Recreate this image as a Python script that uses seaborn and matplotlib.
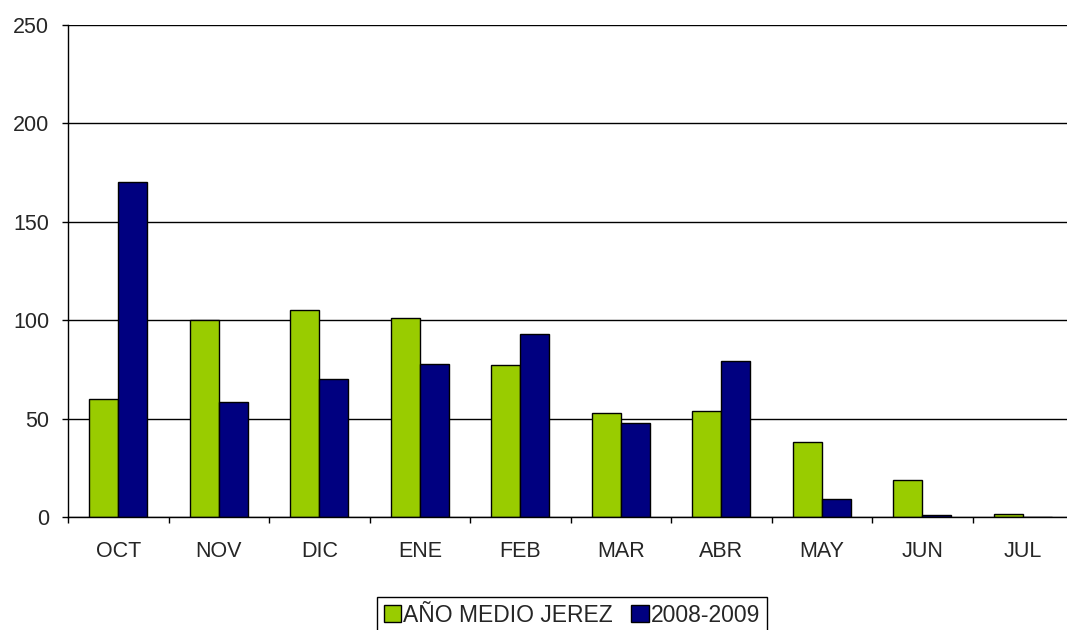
import pandas as pd
import matplotlib.pyplot as plt
import seaborn as sns
from matplotlib.ticker import FixedLocator

meses = ['OCT', 'NOV', 'DIC', 'ENE', 'FEB', 'MAR', 'ABR', 'MAY', 'JUN', 'JUL']
medio_jerez = [60, 100, 105, 101, 77, 53, 54, 38, 19, 1.5]
temporada = [170, 58.5, 70, 77.5, 93, 48, 79.5, 9, 0.8, 0]
series = ['AÑO MEDIO JEREZ', '2008-2009']

df = pd.DataFrame({
    'mes': meses * 2,
    'valor': medio_jerez + temporada,
    'serie': [series[0]] * len(meses) + [series[1]] * len(meses),
})

sns.set_style('white')
plt.rcParams['font.family'] = ['Liberation Sans', 'DejaVu Sans']

fig = plt.figure(figsize=(10.67, 6.3), dpi=100)
ax = fig.add_axes([68 / 1067, 1 - 517 / 630, 1005 / 1067, 492 / 630])

sns.barplot(data=df, x='mes', y='valor', hue='serie', order=meses,
            palette=['#99CC00', '#000080'], width=0.58, gap=0,
            edgecolor='black', linewidth=1, saturation=1, ax=ax)

ax.set_ylim(0, 250)
ax.set_xlim(-0.5, len(meses) - 0.5)
ax.set_yticks(range(0, 251, 50))
ax.yaxis.grid(True, color='black', linewidth=1)
ax.set_axisbelow(True)
ax.set_xlabel('')
ax.set_ylabel('')
for s in ['top', 'right']:
    ax.spines[s].set_visible(False)
for s in ['left', 'bottom']:
    ax.spines[s].set_color('black')
    ax.spines[s].set_linewidth(1)

ax.tick_params(axis='y', length=4.5, width=1, color='black', labelsize=15.5, pad=9, left=True)
ax.tick_params(axis='x', which='major', length=0, labelsize=15.5, pad=17)
ax.xaxis.set_minor_locator(FixedLocator([i - 0.5 for i in range(len(meses) + 1)]))
ax.tick_params(axis='x', which='minor', length=4.5, width=1, color='black', bottom=True)

leg = ax.legend(loc='upper center', bbox_to_anchor=((572 - 68) / 1005, -80 / 492),
                ncol=2, fontsize=16.5, frameon=True, fancybox=False, edgecolor='black',
                handlelength=0.75, handleheight=0.75, handletextpad=0.1, columnspacing=0.8,
                borderpad=0.3, borderaxespad=0)
leg.get_frame().set_linewidth(1)
leg.get_frame().set_alpha(1)

fig.savefig('out.png', dpi=100)
